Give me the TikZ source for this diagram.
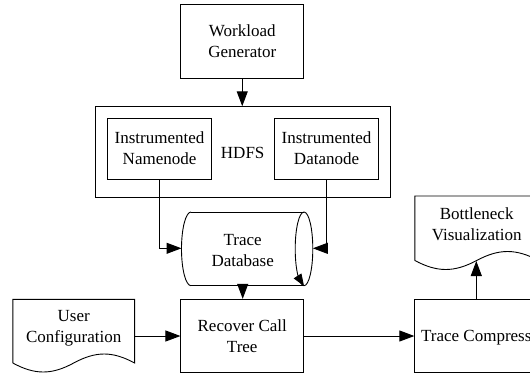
\documentclass[tikz,border=0pt]{standalone}
\usepackage{fontspec}
\setmainfont{Liberation Serif}
\usetikzlibrary{arrows.meta}
\tikzset{
  txt/.style={font=\fontsize{17pt}{21pt}\selectfont, align=center, inner sep=0pt},
  procbox/.style={txt, draw, line width=0.9pt, minimum width=122.7pt, minimum height=73.4pt},
  innerbox/.style={txt, draw, line width=0.9pt, minimum width=104.1pt, minimum height=61.3pt},
  outline/.style={line width=0.9pt},
  conn/.style={line width=1pt, -{Triangle[length=15pt,width=11pt]}}
}
\begin{document}
\begin{tikzpicture}[x=1pt,y=-1pt]
\useasboundingbox (0,0) rectangle (530,375);
\clip (0,0) rectangle (530,375);
% boxes
\node[procbox] (wg) at (242.25,41.5) {Workload\\Generator};
\node[draw, line width=0.9pt, minimum width=295.1pt, minimum height=90.6pt, inner sep=0pt] (hdfs) at (242.55,152) {};
\node[txt] (hdfslabel) at (242.7,152.7) {HDFS};
\node[innerbox] (nn) at (159.55,148.65) {Instrumented\\Namenode};
\node[innerbox] (dn) at (326.55,148.65) {Instrumented\\Datanode};
\node[procbox] (rct) at (242.25,336) {Recover Call\\Tree};
\node[draw, line width=0.9pt, minimum width=123.8pt, minimum height=73.4pt, inner sep=0pt] (tc) at (476.7,336) {};
\node[txt, anchor=west] (tctext) at (420.9,337.7) {Trace Compress};
% trace database (horizontal cylinder)
\draw[outline] (191,212) -- (304,212);
\draw[outline] (191,285.7) -- (304,285.7);
\draw[outline] (191,212) arc[start angle=90, end angle=270, x radius=9.5, y radius=-36.85];
\draw[outline] (304,248.85) ellipse[x radius=8.8, y radius=36.85];
\draw[line width=0.8pt, -{Triangle[length=12pt,width=9pt]}] (299.2,278.5) -- (304,286);
\node[txt] (db) at (242.7,250.3) {Trace\\Database};
\coordinate (dbW) at (181.5,248.3);
\coordinate (dbE) at (312.8,248.3);
\coordinate (dbS) at (242.7,285.7);
% user configuration document
\draw[outline] (12.8,363) -- (12.8,299.3) -- (134.6,299.3) -- (134.6,363)
  .. controls (112.4,351) and (95.9,351) .. (73.7,363)
  .. controls (51.5,375) and (35,375) .. (12.8,363);
\node[txt] (uc) at (73.7,328.5) {User\\Configuration};
\coordinate (ucE) at (134.6,336);
% bottleneck visualization document
\draw[outline] (414.8,260.5) -- (414.8,196) -- (538.6,196) -- (538.6,260.5)
  .. controls (516,248.5) and (499,248.5) .. (476.7,260.5)
  .. controls (454,272.5) and (437.4,272.5) .. (414.8,260.5);
\node[txt] (bv) at (476.7,224) {Bottleneck\\Visualization};
\coordinate (bvS) at (476.3,261);
% connectors
\draw[conn] (wg.south) -- (hdfs.north -| wg.south);
\draw[conn] (nn.south) |- (dbW);
\draw[conn] (dn.south) |- (dbE);
\draw[conn] (dbS) -- (rct.north -| dbS);
\draw[conn] (ucE) -- (rct.west);
\draw[conn] (rct.east) -- (tc.west);
\draw[conn] (tc.north -| bvS) -- (bvS);
\end{tikzpicture}
\end{document}
